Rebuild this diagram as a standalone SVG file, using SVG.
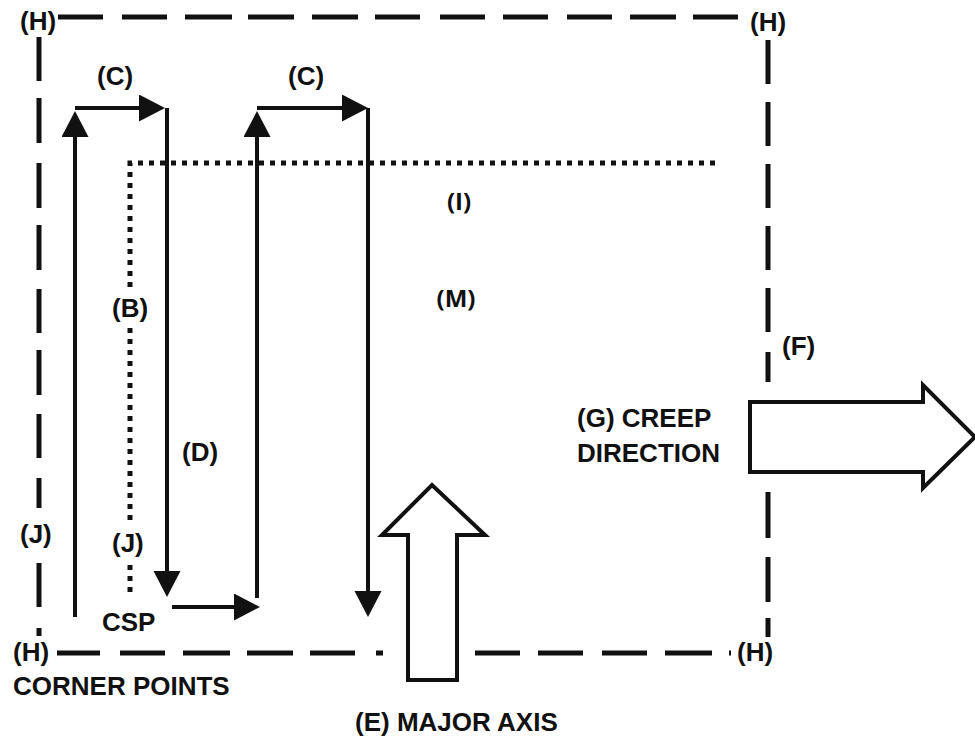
<svg xmlns="http://www.w3.org/2000/svg" width="975" height="740" viewBox="0 0 975 740">
<style>
  .lbl{font-family:"Liberation Sans",Arial,sans-serif;font-weight:bold;font-size:26px;fill:#111}
  .lbl2{font-family:"Open Sans","Noto Sans",sans-serif;font-weight:bold;font-size:24px;fill:#111}
  .dash{fill:none;stroke:#111;stroke-width:5}
  .dot{fill:none;stroke:#111;stroke-width:5;stroke-dasharray:5 6}
  .flow{fill:none;stroke:#111;stroke-width:4;marker-end:url(#ah)}
  .big{fill:#fff;stroke:#111;stroke-width:4;stroke-linejoin:miter}
</style>
<defs>
  <marker id="ah" markerUnits="userSpaceOnUse" markerWidth="28" markerHeight="28" refX="0" refY="13.5" orient="auto">
    <path d="M0,0 L26,13.5 L0,27 z" fill="#111"/>
  </marker>
</defs>
<rect width="975" height="740" fill="#fff"/>

<g id="boundary">
  <path class="dash" d="M58,17H103M122,17H167M185,17H232M248,17H294M312,17H358M375,17H420M440,17H485M503,17H548M567,17H612M630,17H676M693,17H738"/>
  <path class="dash" d="M39,37V81M39,98V143M39,163V208M39,225V270M39,289V333M39,350V395M39,414V458M39,478V508M39,563V607M39,628V636"/>
  <path class="dash" d="M768,40V84M768,102V146M768,164V208M768,226V270M768,288V332M768,352V382M768,492V538M768,557V602M768,618V637"/>
  <path class="dash" d="M57,653H100M120,653H165M183,653H230M247,653H293M310,653H355M376,653H383M475,653H520M538,653H583M602,653H647M665,653H712M729,653H731"/>
</g>

<g id="boundary-dotted">
  <path class="dot" d="M715,163H130V292"/>
  <path class="dot" d="M130,328V525"/>
  <path class="dot" d="M130,565V598"/>
</g>

<g id="connectors">
  <path class="flow" d="M75,617V137"/>
  <path class="flow" d="M75,108H139"/>
  <path class="flow" d="M167,108V571"/>
  <path class="flow" d="M172,607H234"/>
  <path class="flow" d="M257,598V137"/>
  <path class="flow" d="M257,108H342"/>
  <path class="flow" d="M368,108V591"/>
</g>

<g id="major-axis">
  <polygon class="big" points="408,680 457,680 457,535 485,535 432,485 382,535 408,535"/>
  <text class="lbl" x="355" y="731">(E) MAJOR AXIS</text>
</g>

<g id="creep-direction">
  <polygon class="big" points="750,402 923,402 923,385 975,437 923,488 923,472 750,472"/>
  <text class="lbl" x="577" y="427">(G) CREEP</text>
  <text class="lbl" x="577" y="462">DIRECTION</text>
</g>

<g id="labels">
  <text class="lbl" x="20" y="30">(H)</text>
  <text class="lbl" x="750" y="31">(H)</text>
  <text class="lbl" x="13" y="661">(H)</text>
  <text class="lbl" x="737" y="661">(H)</text>
  <text class="lbl" x="97" y="85">(C)</text>
  <text class="lbl" x="288" y="85">(C)</text>
  <text class="lbl" x="112" y="317">(B)</text>
  <text class="lbl" x="182" y="461">(D)</text>
  <text class="lbl" x="20" y="543">(J)</text>
  <text class="lbl" x="112" y="552">(J)</text>
  <text class="lbl" x="102" y="631">CSP</text>
  <text class="lbl" x="782" y="355">(F)</text>
  <text class="lbl" x="13" y="695" style="font-size:26px">CORNER POINTS</text>
  <text class="lbl2" x="459" y="210" text-anchor="middle">(I)</text>
  <text class="lbl2" x="456" y="307" text-anchor="middle">(M)</text>
</g>
</svg>
